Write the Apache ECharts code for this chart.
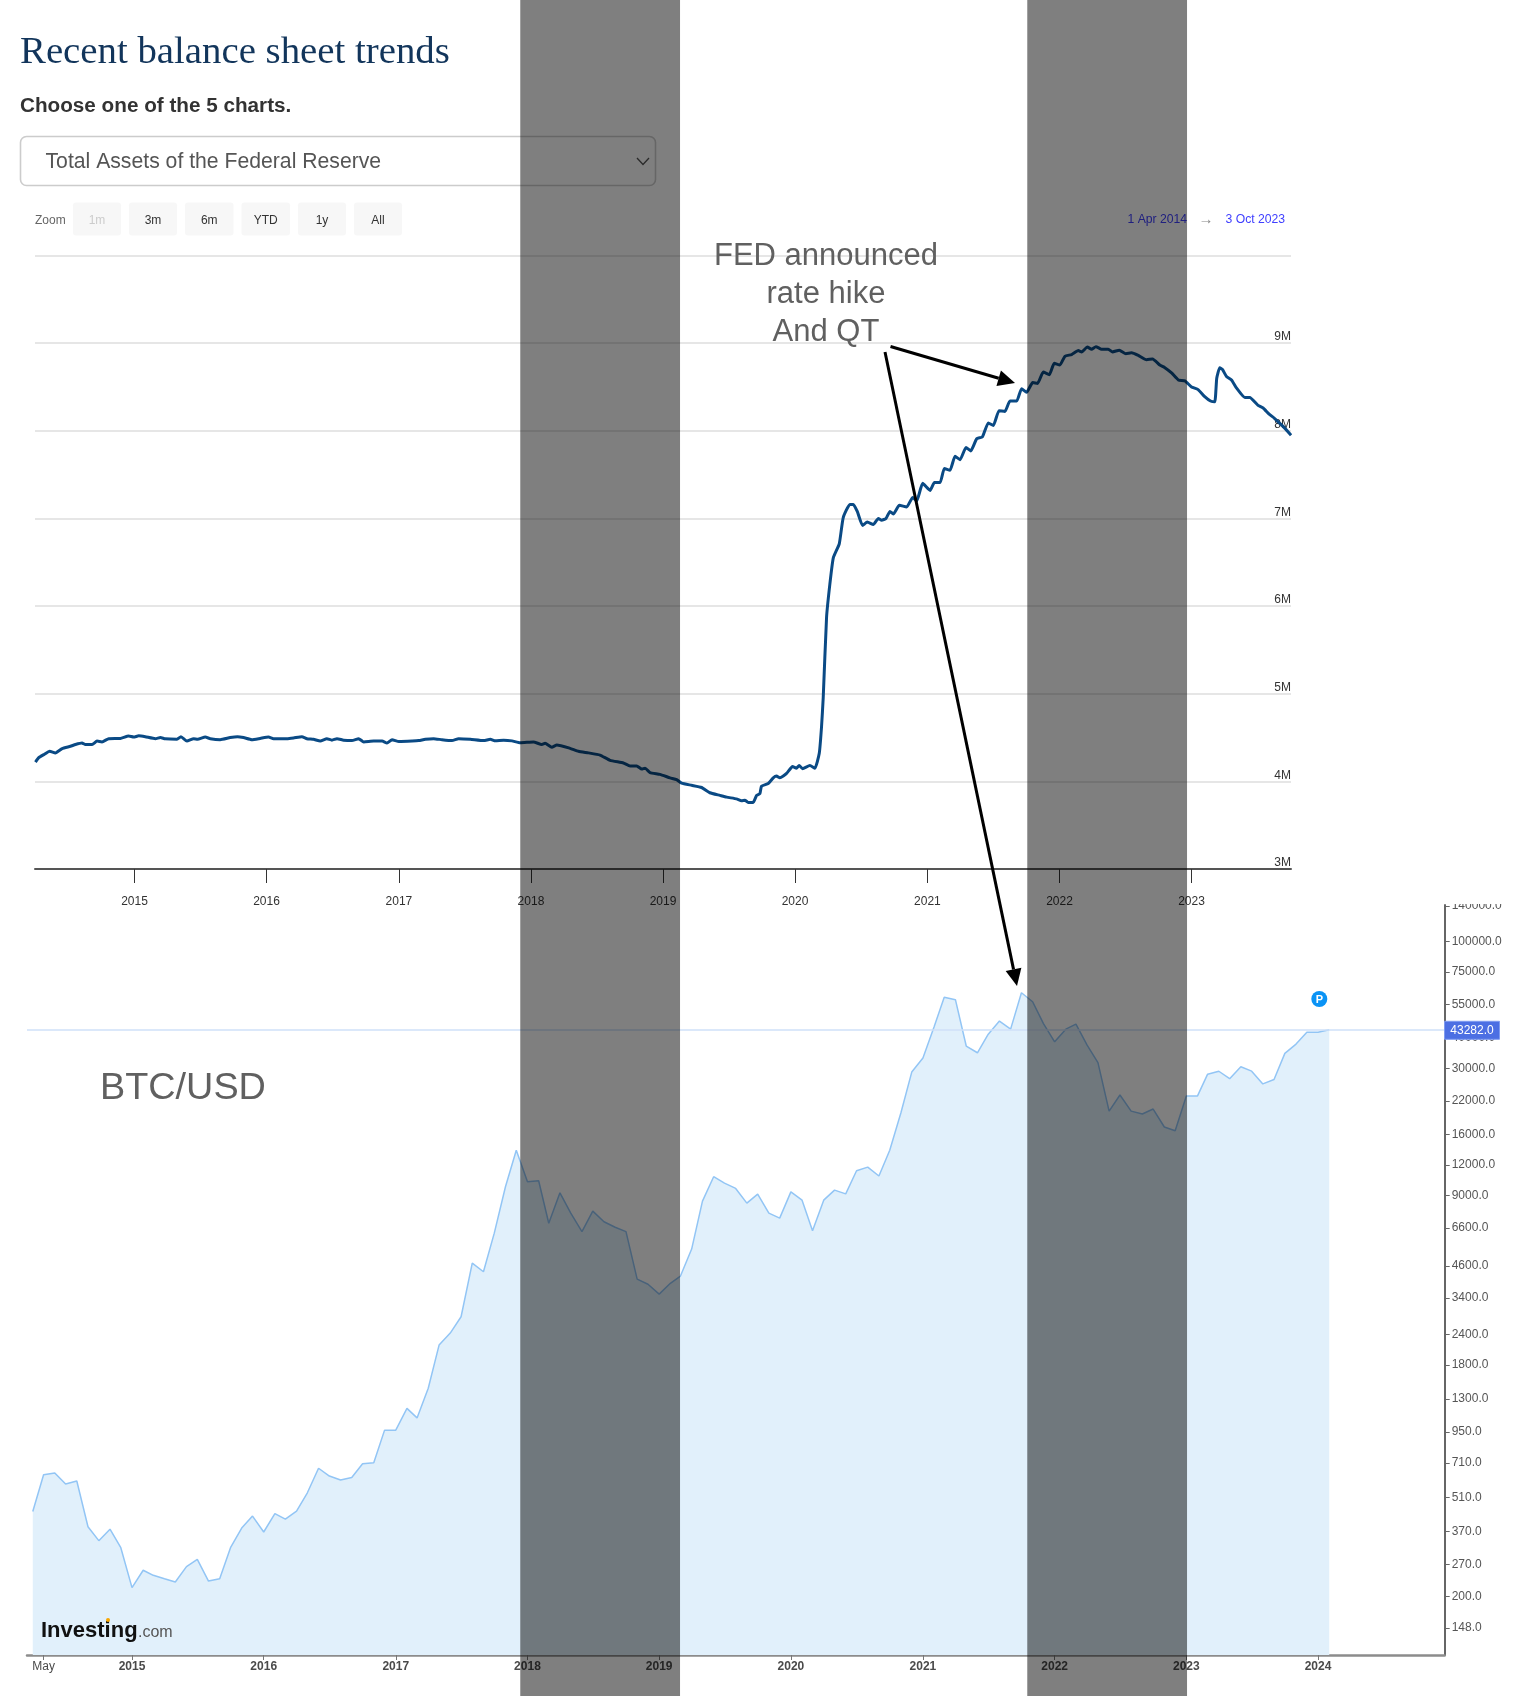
<!DOCTYPE html>
<html><head><meta charset="utf-8">
<style>html,body{margin:0;padding:0;background:#fff}#c{width:1528px;height:1696px}</style>
<script src="https://cdn.jsdelivr.net/npm/echarts@6/dist/echarts.min.js"></script>
</head><body><div id="c"></div>
<script>
// Fed total assets, in the axis's "M" units; [decimal year, value]
const assets2014to2017 = [[2014.25,4.22],[2014.275,4.27],[2014.313,4.305],[2014.358,4.343],[2014.401,4.324],[2014.452,4.374],[2014.515,4.40],[2014.553,4.42],[2014.603,4.437],[2014.628,4.42],[2014.679,4.42],[2014.716,4.46],[2014.754,4.45],[2014.805,4.487],[2014.893,4.49],[2014.956,4.517],[2014.994,4.505],[2015.032,4.52],[2015.082,4.51],[2015.158,4.487],[2015.196,4.50],[2015.233,4.485],[2015.322,4.48],[2015.352,4.51],[2015.397,4.46],[2015.448,4.487],[2015.478,4.48],[2015.536,4.505],[2015.574,4.487],[2015.649,4.476],[2015.725,4.50],[2015.78,4.51],[2015.826,4.50],[2015.889,4.476],[2015.952,4.49],[2016.015,4.505],[2016.053,4.487],[2016.154,4.487],[2016.204,4.495],[2016.267,4.51],[2016.305,4.487],[2016.355,4.48],[2016.406,4.46],[2016.456,4.487],[2016.494,4.47],[2016.532,4.487],[2016.582,4.47],[2016.645,4.465],[2016.696,4.487],[2016.734,4.45],[2016.809,4.46],[2016.873,4.46],[2016.91,4.437],[2016.948,4.475],[2017.0,4.455],[2017.1,4.46],[2017.15,4.465],[2017.2,4.48],[2017.263,4.487],[2017.326,4.475],[2017.402,4.465],[2017.452,4.487],[2017.541,4.48],[2017.642,4.465],[2017.692,4.48],[2017.73,4.462],[2017.793,4.47],[2017.856,4.462],[2017.919,4.44]];
const assets2018to2019 = [[2018.019,4.45],[2018.082,4.42],[2018.107,4.435],[2018.158,4.39],[2018.196,4.415],[2018.296,4.377],[2018.36,4.343],[2018.435,4.325],[2018.523,4.30],[2018.599,4.24],[2018.7,4.21],[2018.75,4.176],[2018.801,4.176],[2018.839,4.14],[2018.864,4.15],[2018.902,4.10],[2018.977,4.08],[2019.053,4.04],[2019.103,4.02],[2019.141,3.98],[2019.217,3.955],[2019.292,3.93],[2019.355,3.87],[2019.431,3.84],[2019.482,3.82],[2019.557,3.80],[2019.595,3.78],[2019.62,3.785],[2019.645,3.76],[2019.683,3.76],[2019.709,3.84],[2019.734,3.86],[2019.746,3.945],[2019.797,3.975],[2019.835,4.04],[2019.86,4.06],[2019.885,4.04],[2019.936,4.09],[2019.981,4.17]];
const assets2020 = [[2020.011,4.15],[2020.031,4.18],[2020.057,4.145],[2020.112,4.18],[2020.15,4.15],[2020.183,4.32],[2020.2,4.62],[2020.213,4.96],[2020.238,5.87],[2020.263,6.25],[2020.289,6.55],[2020.334,6.71],[2020.364,7.01],[2020.414,7.16],[2020.44,7.16],[2020.47,7.08],[2020.51,6.92],[2020.546,6.96],[2020.591,6.93],[2020.629,7.0],[2020.654,6.98],[2020.687,7.0],[2020.717,7.08],[2020.742,7.05],[2020.788,7.15],[2020.843,7.13],[2020.889,7.24],[2020.919,7.20],[2020.964,7.40]];
const assets2021 = [[2021.02,7.32],[2021.053,7.41],[2021.096,7.41],[2021.128,7.57],[2021.171,7.55],[2021.209,7.71],[2021.247,7.67],[2021.292,7.81],[2021.328,7.77],[2021.373,7.91],[2021.416,7.93],[2021.461,8.09],[2021.499,8.06],[2021.542,8.23],[2021.587,8.22],[2021.625,8.34],[2021.676,8.34],[2021.713,8.48],[2021.751,8.44],[2021.797,8.55],[2021.834,8.54],[2021.877,8.67],[2021.923,8.64],[2021.96,8.77]];
const assets2022to2023 = [[2022.003,8.75],[2022.041,8.85],[2022.092,8.87],[2022.143,8.915],[2022.168,8.90],[2022.211,8.956],[2022.243,8.93],[2022.276,8.96],[2022.319,8.93],[2022.37,8.93],[2022.402,8.90],[2022.453,8.92],[2022.503,8.88],[2022.546,8.89],[2022.597,8.86],[2022.66,8.81],[2022.705,8.82],[2022.76,8.75],[2022.798,8.72],[2022.849,8.66],[2022.9,8.58],[2022.95,8.57],[2023.0,8.50],[2023.05,8.47],[2023.1,8.39],[2023.144,8.34],[2023.176,8.33],[2023.191,8.60],[2023.214,8.72],[2023.234,8.70],[2023.265,8.62],[2023.303,8.58],[2023.34,8.49],[2023.404,8.38],[2023.441,8.38],[2023.504,8.29],[2023.542,8.26],[2023.588,8.19],[2023.63,8.14],[2023.693,8.05],[2023.754,7.95]];
const assetTickYears = [2015,2016,2017,2018,2019,2020,2021,2022,2023];
const assetAxisLabels = [3,4,5,6,7,8,9];

// BTC/USD monthly values, April 2014 to February 2024
const btcValues = [447,634,644,580,597,387,339,378,317,
217,256,244,236,229,265,284,231,236,317,382,428,
368,438,416,449,534,674,626,603,617,703,710,968,
968,1190,1087,1440,2170,2432,2839,4724,4354,6280,9750,13800,
10230,10330,6900,9210,7590,6370,7740,7000,6640,6370,4060,3866,
3520,3900,4180,5400,8510,10730,10100,9600,8350,9100,7590,7240,
9290,8590,6430,8590,9450,9120,11350,11750,10800,13800,19680,28970,
33100,44560,58900,57600,37100,34800,41500,47000,43550,61500,56500,45900,
38600,43550,45700,37400,31700,20000,23300,20000,19450,20400,17200,16600,
23100,23100,28400,29200,27200,30470,29230,25900,27000,34600,37800,42300,
42300,43282];
const btcAxisLabels = [148,200,270,370,510,710,950,1300,1800,2400,3400,4600,6600,9000,12000,16000,22000,30000,40000,55000,75000,100000,140000];
const btcTickYears = [2015,2016,2017,2018,2019,2020,2021,2022,2023,2024];
const lastPrice = 43282;

// Shaded periods as decimal years
const bandPeriods = [[2017.919,2019.129],[2021.756,2022.966]];

const sans = '"Liberation Sans", Arial, sans-serif';
const yearMs = y => { const f = Math.floor(y); const a = Date.UTC(f,0,1), b = Date.UTC(f+1,0,1); return a + (y-f)*(b-a); };
const assetData = [].concat(assets2014to2017, assets2018to2019, assets2020, assets2021, assets2022to2023).map(p => [yearMs(p[0]), p[1]]);
const btcData = btcValues.map((v,i) => [Date.UTC(2014,3+i,1), v]);
const assetTicks = assetTickYears.map(y => Date.UTC(y,0,1));
const btcTicks = [Date.UTC(2014,4,1)].concat(btcTickYears.map(y => Date.UTC(y,0,1)));

const chart = echarts.init(document.getElementById('c'), null, {renderer:'canvas', width:1528, height:1696});
chart.setOption({
  animation:false, useUTC:true, backgroundColor:'#fff',
  textStyle:{fontFamily:sans},
  grid:[
    {left:35, top:255.5, width:1256, height:613.5},
    {left:27, top:905, width:1417.7, height:750}
  ],
  xAxis:[
    {type:'value', gridIndex:0, min:Date.UTC(2014,3,1), max:Date.UTC(2023,9,3),
     axisLine:{show:true, lineStyle:{color:'#555',width:2}},
     axisTick:{show:true, length:14, customValues:assetTicks, lineStyle:{color:'#333',width:1}},
     axisLabel:{show:true, margin:27, color:'#333', fontSize:12, customValues:assetTicks, hideOverlap:false,
       formatter:v => String(new Date(v).getUTCFullYear())},
     splitLine:{show:false}},
    {type:'value', gridIndex:1, min:Date.UTC(2014,2,16), max:Date.UTC(2024,11,17),
     axisLine:{show:true, lineStyle:{color:'#8c8c8c',width:2.5}},
     axisTick:{show:true, length:5, customValues:btcTicks, lineStyle:{color:'#777',width:1}},
     axisLabel:{show:true, margin:6, color:'#4a4a4a', fontSize:12, customValues:btcTicks, hideOverlap:false,
       formatter:v => { const d=new Date(v); return d.getUTCMonth()===4 ? 'May' : '{y|'+d.getUTCFullYear()+'}'; },
       rich:{y:{fontWeight:'bold',fontSize:12,color:'#4a4a4a',fontFamily:sans}}},
     splitLine:{show:false}}
  ],
  yAxis:[
    {type:'value', gridIndex:0, position:'right', min:3, max:10, interval:1,
     axisLine:{show:false}, axisTick:{show:false},
     axisLabel:{inside:true, margin:0, color:'#333', fontSize:12, verticalAlign:'bottom', lineHeight:12,
       customValues:assetAxisLabels, formatter:v => v+'M'},
     splitLine:{show:true, lineStyle:{color:'#e6e6e6',width:2}}},
    {type:'log', gridIndex:1, position:'right', logBase:10, min:114.5, max:141500,
     axisLine:{show:true, lineStyle:{color:'#666',width:2}},
     axisTick:{show:true, length:5, customValues:btcAxisLabels, lineStyle:{color:'#666',width:1}},
     axisLabel:{show:true, margin:7, color:'#555', fontSize:12, padding:[2,0,0,0], customValues:btcAxisLabels, hideOverlap:false,
       formatter:v => Number(v).toFixed(1)},
     splitLine:{show:false}, minorTick:{show:false}}
  ],
  series:[
    {name:'Total Assets', type:'line', xAxisIndex:0, yAxisIndex:0, data:assetData, showSymbol:false, smooth:0.15,
     lineStyle:{color:'#0a4a85', width:3, join:'round'}, z:3},
    {name:'BTC/USD', type:'line', xAxisIndex:1, yAxisIndex:1, data:btcData, showSymbol:false,
     lineStyle:{color:'#92c5f5', width:1.5},
     areaStyle:{color:'#e1f0fb', opacity:1, origin:'start'},
     markLine:{silent:true, symbol:'none', animation:false, label:{show:false},
       lineStyle:{color:'#cfe0f8', width:1.5, type:'solid'}, data:[{yAxis:lastPrice}]}, z:3}
  ]
});

function text(x,y,s,o){ return {type:'text', z:(o&&o.zz)||60, x:x, y:y, style:Object.assign({text:s, fill:'#333', font:'12px '+sans, textAlign:'left', textVerticalAlign:'middle'}, o||{})}; }
function rrect(x,y,w,h,r,fill,stroke,lw,z){ return {type:'rect', z:z||50, shape:{x:x,y:y,width:w,height:h,r:r}, style:{fill:fill,stroke:stroke||null,lineWidth:lw||0}}; }
function arrow(x0,y0,x1,y1){
  const a=Math.atan2(y1-y0,x1-x0), L=17, W=8;
  const bx=x1-L*Math.cos(a), by=y1-L*Math.sin(a), nx=-Math.sin(a), ny=Math.cos(a);
  return [
    {type:'line', z:80, shape:{x1:x0,y1:y0,x2:bx,y2:by}, style:{stroke:'#000',lineWidth:3}},
    {type:'polygon', z:80, shape:{points:[[x1,y1],[bx+nx*W,by+ny*W],[bx-nx*W,by-ny*W]]}, style:{fill:'#000'}}
  ];
}

const els = [];
// page header
els.push(text(20,53,'Recent balance sheet trends',{font:'38.8px "Liberation Serif", Georgia, serif',fill:'#12355b'}));
els.push(text(20,106,'Choose one of the 5 charts.',{font:'bold 20.7px '+sans,fill:'#333'}));
els.push(rrect(20.5,136.5,635,49,6,'#fff','#cccccc',1.6));
els.push(text(45.5,162,'Total Assets of the Federal Reserve',{font:'21.2px '+sans,fill:'#555'}));
els.push({type:'polyline',z:60,shape:{points:[[637,158],[643,164.5],[649,158]]},style:{stroke:'#555',lineWidth:1.3,fill:null}});
// zoom buttons
els.push(text(35,221,'Zoom',{fill:'#666'}));
[['1m',73,48,'#ccc'],['3m',129,48,'#333'],['6m',185,48.5,'#333'],['YTD',241.5,48.5,'#333'],['1y',298,48,'#333'],['All',354,48,'#333']].forEach(b=>{
  els.push(rrect(b[1],202.5,b[2],33,3,'#f7f7f7'));
  els.push(text(b[1]+b[2]/2,221,b[0],{fill:b[3],textAlign:'center'}));
});
// range readout
els.push(text(1127.5,220,'1 Apr 2014',{fill:'#4040ff',font:'12.2px '+sans}));
els.push(text(1206,220,'\u2192',{fill:'#888',textAlign:'center',font:'15px '+sans}));
els.push(text(1225.5,220,'3 Oct 2023',{fill:'#4040ff',font:'12.2px '+sans}));
// annotation
[['FED announced',256],['rate hike',294],['And QT',332]].forEach(l=>els.push(text(826,l[1],l[0],{font:'31px '+sans,fill:'#606060',textAlign:'center',zz:70})));
els.push.apply(els,arrow(890.5,346.5,1015,383));
els.push.apply(els,arrow(885,352,1017,986));
els.push(text(100,1089,'BTC/USD',{font:'37.8px '+sans,fill:'#606060',zz:70}));
// investing.com mark
els.push(text(41,1631,'Investing',{font:'bold 22px '+sans,fill:'#111'}));
els.push(text(138,1633,'.com',{font:'16px '+sans,fill:'#555'}));
els.push({type:'circle',z:61,shape:{cx:108,cy:1620,r:2},style:{fill:'#f7a600'}});
// clip above the axis top and P badge
els.push({type:'rect',z:55,shape:{x:1446,y:880,width:82,height:24},style:{fill:'#fff'}});
els.push({type:'circle',z:60,shape:{cx:1319.3,cy:999,r:8},style:{fill:'#0a93f5'}});
els.push(text(1319.3,999.5,'P',{font:'bold 11px '+sans,fill:'#fff',textAlign:'center'}));
// last price tag
const tagY = chart.convertToPixel({yAxisIndex:1}, lastPrice);
els.push(rrect(1444.5,tagY-8.5,55,18,0,'#4c6fe3','#7f9bf0',1,58));
els.push(text(1472,tagY+1,lastPrice.toFixed(1),{fill:'#fff',font:'12px '+sans,textAlign:'center'}));
// shaded periods over everything
bandPeriods.forEach(p=>{
  const x0=chart.convertToPixel({xAxisIndex:0}, yearMs(p[0])), x1=chart.convertToPixel({xAxisIndex:0}, yearMs(p[1]));
  els.push({type:'rect',z:75,shape:{x:x0,y:0,width:x1-x0,height:1696},style:{fill:'rgba(0,0,0,0.5)'}});
});
chart.setOption({graphic:{elements:els}});
</script></body></html>
